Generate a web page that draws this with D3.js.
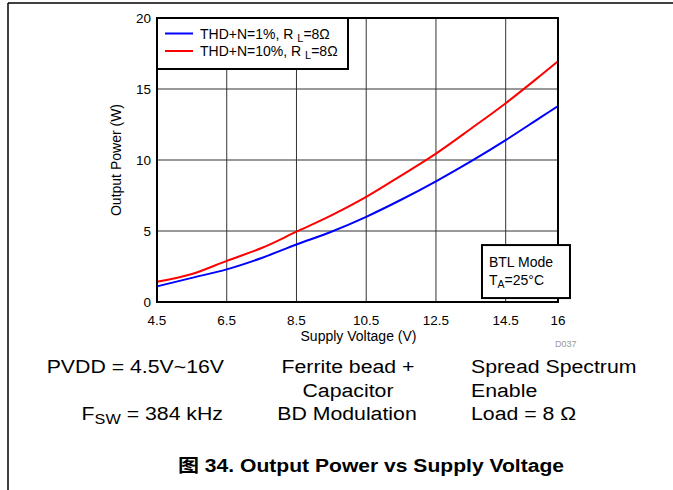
<!DOCTYPE html>
<html lang="en">
<head>
<meta charset="UTF-8">
<title>Output Power vs Supply Voltage</title>
<script src="https://d3js.org/d3.v7.min.js"></script>
<style>
  body { margin: 0; background: #fff; }
  svg { display: block; font-family: Arial, "Liberation Sans", sans-serif; }
</style>
</head>
<body>
<svg id="chart" width="673" height="490"></svg>
<script>
  // supply voltage (V)
  const voltage = [4.5, 5.5, 6.5, 7.5, 8.5, 9.5, 10.5, 11.5, 12.5, 13.5, 14.5, 15.5, 16];
  // output power (W)
  const thd1 = [1.1, 1.7, 2.3, 3.1, 4.05, 4.95, 6.0, 7.2, 8.5, 9.9, 11.4, 13.0, 13.8];
  const thd10 = [1.42, 1.97, 2.9, 3.8, 4.95, 6.1, 7.4, 8.9, 10.45, 12.2, 14.0, 15.95, 16.95];

  const xTicks = [4.5, 6.5, 8.5, 10.5, 12.5, 14.5, 16];
  const yTicks = [0, 5, 10, 15, 20];

  const seriesNames = ["THD+N=1%, R", "THD+N=10%, R"];
  const seriesColors = ["#0000ff", "#ff0000"];

  const svg = d3.select("#chart");

  // page frame (top and left rules)
  svg.append("line").attr("x1", 8).attr("x2", 673).attr("y1", 3).attr("y2", 3)
    .attr("stroke", "#000").attr("stroke-width", 1.5);
  svg.append("line").attr("x1", 8).attr("x2", 8).attr("y1", 3).attr("y2", 490)
    .attr("stroke", "#000").attr("stroke-width", 1.5);

  const margin = {top: 18, left: 157};
  const width = 401, height = 284;
  const g = svg.append("g").attr("transform", `translate(${margin.left},${margin.top})`);

  const x = d3.scaleLinear().domain([4.5, 16]).range([0, width]);
  const y = d3.scaleLinear().domain([0, 20]).range([height, 0]);

  // grid
  g.append("g").selectAll("line")
    .data(xTicks.slice(1, -1))
    .join("line")
    .attr("x1", d => x(d)).attr("x2", d => x(d))
    .attr("y1", 0).attr("y2", height)
    .attr("stroke", "#333").attr("stroke-width", 1);
  g.append("g").selectAll("line")
    .data(yTicks.slice(1, -1))
    .join("line")
    .attr("x1", 0).attr("x2", width)
    .attr("y1", d => y(d)).attr("y2", d => y(d))
    .attr("stroke", "#333").attr("stroke-width", 1);

  // tick labels
  g.append("g").selectAll("text")
    .data(xTicks)
    .join("text")
    .attr("x", d => x(d))
    .attr("y", height + 23)
    .attr("text-anchor", "middle")
    .attr("font-size", 13.5)
    .text(d => d);
  g.append("g").selectAll("text")
    .data(yTicks)
    .join("text")
    .attr("x", -6)
    .attr("y", d => y(d) + 5)
    .attr("text-anchor", "end")
    .attr("font-size", 13.5)
    .text(d => d);

  // axis titles
  g.append("text")
    .attr("x", width / 2 + 1)
    .attr("y", height + 39)
    .attr("text-anchor", "middle")
    .attr("font-size", 14)
    .text("Supply Voltage (V)");
  g.append("text")
    .attr("transform", `translate(-36,${height / 2}) rotate(-90)`)
    .attr("text-anchor", "middle")
    .attr("font-size", 14)
    .text("Output Power (W)");

  g.append("text")
    .attr("x", width - 3)
    .attr("y", height + 45)
    .attr("font-size", 9)
    .attr("fill", "#999")
    .text("D037");

  // curves
  const line = d3.line()
    .x((d, i) => x(voltage[i]))
    .y(d => y(d))
    .curve(d3.curveMonotoneX);

  [thd1, thd10].forEach((s, k) => {
    g.append("path")
      .datum(s)
      .attr("fill", "none")
      .attr("stroke", seriesColors[k])
      .attr("stroke-width", 2)
      .attr("d", line);
  });

  // plot frame
  g.append("rect")
    .attr("width", width).attr("height", height)
    .attr("fill", "none").attr("stroke", "#000").attr("stroke-width", 2);

  // legend
  const lg = g.append("g");
  lg.append("rect")
    .attr("x", 0).attr("y", 0).attr("width", 191).attr("height", 51)
    .attr("fill", "#fff").attr("stroke", "#000").attr("stroke-width", 2);
  seriesNames.forEach((name, i) => {
    const ly = 15.5 + i * 17.5;
    lg.append("line")
      .attr("x1", 8).attr("x2", 36).attr("y1", ly).attr("y2", ly)
      .attr("stroke", seriesColors[i]).attr("stroke-width", 2);
    const t = lg.append("text")
      .attr("x", 43).attr("y", ly + 5)
      .attr("font-size", 14);
    t.append("tspan").text(name + " ");
    t.append("tspan").attr("font-size", 11).attr("dy", 3).text("L");
    t.append("tspan").attr("dy", -3).text("=8\u03A9");
  });

  // BTL box
  const bb = g.append("g").attr("transform", `translate(${x(13.82)},${y(4.01)})`);
  bb.append("rect")
    .attr("width", 88).attr("height", 53)
    .attr("fill", "#fff").attr("stroke", "#000").attr("stroke-width", 2);
  bb.append("text").attr("x", 7).attr("y", 22).attr("font-size", 14).text("BTL Mode");
  const ta = bb.append("text").attr("x", 7).attr("y", 40).attr("font-size", 14);
  ta.append("tspan").text("T");
  ta.append("tspan").attr("font-size", 10.5).attr("dy", 3).text("A");
  ta.append("tspan").attr("dy", -3).text("=25\u00B0C");

  // conditions below the chart (source text is slightly wide-set)
  const fs = 19, sx = 1.12;
  const put = (anchor, px, py) => svg.append("text")
    .attr("transform", `translate(${px},${py}) scale(${sx},1)`)
    .attr("font-size", fs)
    .attr("text-anchor", anchor);

  put("end", 224, 373).text("PVDD = 4.5V~16V");
  const fsw = put("end", 223, 420);
  fsw.append("tspan").text("F");
  fsw.append("tspan").attr("font-size", 14.5).attr("dy", 4).text("SW");
  fsw.append("tspan").attr("dy", -4).text(" = 384 kHz");

  put("middle", 348, 373).text("Ferrite bead +");
  put("middle", 348, 397).text("Capacitor");
  put("middle", 347, 420).text("BD Modulation");

  put("start", 471, 373).text("Spread Spectrum");
  put("start", 471, 397).text("Enable");
  put("start", 471, 420).text("Load = 8 \u03A9");

  // caption
  svg.append("text")
    .attr("transform", "translate(371,472) scale(1.14,1)")
    .attr("text-anchor", "middle")
    .attr("font-size", 18.5)
    .attr("font-weight", "bold")
    .attr("font-family", "Arial, 'Liberation Sans', 'Noto Sans CJK SC', sans-serif")
    .text("图 34. Output Power vs Supply Voltage");
</script>
</body>
</html>
